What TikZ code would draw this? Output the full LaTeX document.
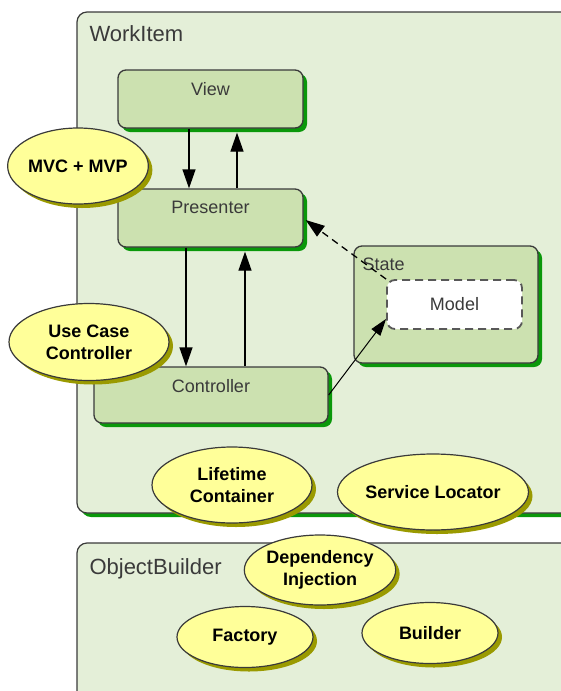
\documentclass[tikz,border=0pt]{standalone}
\usepackage{fontspec}
\setmainfont{Liberation Sans}
\usepackage{tikz}
\usetikzlibrary{arrows.meta}
\usetikzlibrary{shapes.geometric}
\usetikzlibrary{shadows}
\definecolor{pagegreen}{HTML}{E4EFD8}
\definecolor{partgreen}{HTML}{CCE1B0}
\definecolor{shadegreen}{HTML}{0A980A}
\definecolor{noteyellow}{HTML}{FFFF99}
\definecolor{noteshade}{HTML}{9A9A00}
\definecolor{edgegray}{HTML}{3A3A3A}
\tikzset{
  frame/.style={draw=edgegray, line width=1.2pt, rounded corners=10pt, fill=pagegreen, inner sep=0pt, minimum width=543pt},
  greenshade/.style={drop shadow={shadow xshift=4pt, shadow yshift=-4pt, fill=shadegreen, opacity=1}},
  part/.style={draw=edgegray, line width=1.3pt, rounded corners=8pt, fill=partgreen, inner sep=0pt, greenshade},
  note/.style={ellipse, draw=edgegray, line width=1.2pt, fill=noteyellow, align=center, inner sep=0pt,
    font=\fontsize{18}{22}\selectfont\bfseries,
    drop shadow={shadow xshift=4pt, shadow yshift=-4pt, fill=noteshade, opacity=1}},
  title/.style={anchor=base west, text=edgegray, font=\fontsize{22}{26}\selectfont},
  caption/.style={text=edgegray, font=\fontsize{18}{22}\selectfont},
  flow/.style={-{Triangle[length=19pt,width=13pt]}, line width=1.3pt},
}

\begin{document}
\begin{tikzpicture}[x=1pt, y=-1pt]
    \useasboundingbox (0,0) rectangle (561,691);
    \clip (0,0) rectangle (561,691);

    \node[frame, greenshade, minimum height=501pt] at (348.5,262.5) (work){};
    \node[title] at (86,41) (worktitle){WorkItem};
    \node[frame, minimum height=177pt] at (348.5,631.5) (ob){};
    \node[title] at (86,574) (obtitle){ObjectBuilder};

    \node[part, minimum width=185pt, minimum height=58pt] at (210.5,99) (view){};
    \node[caption] at ([yshift = -20pt]view.north) {View};
    \node[part, minimum width=185pt, minimum height=58pt] at (210.5,218) (pres){};
    \node[caption] at ([yshift = -19pt]pres.north) {Presenter};
    \node[part, minimum width=234pt, minimum height=56pt] at (211,395) (ctrl){};
    \node[caption] at ([yshift = -20pt]ctrl.north) {Controller};

    \node[part, minimum width=184pt, minimum height=117pt] at (446,304.5) (state){};
    \node[caption, anchor=west, inner sep=0pt] at ([xshift = 9pt, yshift = -19pt]state.north west) {State};
    \node[caption, draw=edgegray!85, fill=white, dash pattern=on 8pt off 5pt, line width=1.8pt,
      rounded corners=8pt, minimum width=135pt, minimum height=49pt] at (454.5,304.5) (model){Model};

    \draw[flow] ([xshift = -21.5pt]view.south) -- ([xshift = -21.5pt]view.south |- pres.north);
    \draw[flow] ([xshift = 26.5pt]pres.north) -- ([xshift = 26.5pt, yshift = -4pt]pres.north |- view.south);
    \draw[flow] ([xshift = -24.5pt]pres.south) -- ([xshift = -24.5pt]pres.south |- ctrl.north);
    \draw[flow] ([xshift = 34pt]ctrl.north) -- ([xshift = 34pt, yshift = -4pt]ctrl.north |- pres.south);
    \draw[flow, line width=1pt, -{Triangle[length=17pt,width=11pt]}] (ctrl.east) -- ([yshift = 11pt]model.south west);
    \draw[flow, dash pattern=on 7pt off 5pt] (model.north west) -- ([xshift = 2pt, yshift = -2pt]pres.east);

    \node[note, minimum width=138pt, minimum height=76pt] at (78,166) (mvc){MVC + MVP};
    \node[note, minimum width=160pt, minimum height=77pt] at (89,342) (usecase){Use Case\\Controller};
    \node[note, minimum width=160pt, minimum height=76pt] at (232,485) (lifetime){Lifetime\\Container};
    \node[note, minimum width=160pt, minimum height=76pt] at (433,492) (locator){Service Locator};
    \node[note, minimum width=150pt, minimum height=70pt] at (320,570) (di){Dependency\\Injection};
    \node[note, minimum width=136pt, minimum height=61pt] at (245,637) (factory){Factory};
    \node[note, minimum width=136pt, minimum height=61pt] at (430,633) (builder){Builder};
\end{tikzpicture}
\end{document}
